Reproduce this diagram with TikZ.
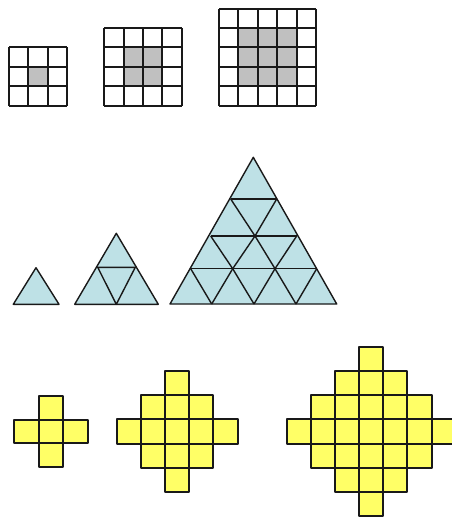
\documentclass[tikz,border=0pt]{standalone}
\definecolor{gridgray}{RGB}{192,192,192}
\definecolor{triblue}{RGB}{190,225,230}
\definecolor{crossyellow}{RGB}{255,255,102}
\begin{document}
\begin{tikzpicture}[x=1pt,y=-1pt,line join=round]
\tikzset{
  cellline/.style={line width=1.7pt,draw=black!90},
  tri/.style={line width=1.4pt,draw=black!90,fill=triblue},
  triline/.style={line width=1.4pt,draw=black!90},
  ycell/.style={fill=crossyellow},
  yline/.style={cellline}
}
\useasboundingbox (0,0) rectangle (452,517);
% square grids
\foreach \n/\L in {3/9,4/104.3,5/219}{
  \pgfmathtruncatemacro\T{round(105.5-\n*19.4)}
  \pgfmathtruncatemacro\R{round(\L+\n*19.4)}
  \pgfmathtruncatemacro\Lr{round(\L)}
  \pgfmathtruncatemacro\ga{round(\L+19.4)}
  \pgfmathtruncatemacro\gb{round(\L+(\n-1)*19.4)}
  \pgfmathtruncatemacro\gc{round(105.5-(\n-1)*19.4)}
  \pgfmathtruncatemacro\gd{round(105.5-19.4)}
  \fill[gridgray] (\ga,\gc) rectangle (\gb,\gd);
  \foreach \i in {0,...,\n}{
    \pgfmathtruncatemacro\xx{round(\L+\i*19.4)}
    \pgfmathtruncatemacro\yy{round(105.5-\i*19.4)}
    \draw[cellline] (\xx,\T) -- (\xx,106);
    \draw[cellline] (\Lr,\yy) -- (\R,\yy);
  }
}
% triangles
\filldraw[tri] (13.3,304.3) -- (36,267.7) -- (59,304.3) -- cycle;
\filldraw[tri] (74.7,304.3) -- (116.3,233.3) -- (158.3,304.3) -- cycle;
\draw[triline] (97.7,267.3) -- (135.3,267.3) -- (116.3,304.3) -- cycle;
\filldraw[tri] (170,304) -- (253.3,157.3) -- (336.7,304) -- cycle;
\draw[triline] (230.7,199) -- (276.7,199);
\draw[triline] (210.7,236) -- (296.7,236);
\draw[triline] (190.7,268.7) -- (316.7,268.7);
\draw[triline] (230.7,199) -- (255,236) -- (275,268.7) -- (296,304);
\draw[triline] (210.7,236) -- (232.7,268.7) -- (254,304);
\draw[triline] (190.7,268.7) -- (211.7,304);
\draw[triline] (276.7,199) -- (255,236) -- (232.7,268.7) -- (211.7,304);
\draw[triline] (296.7,236) -- (275,268.7) -- (254,304);
\draw[triline] (316.7,268.7) -- (296,304);
% crosses: fills first, then borders
\foreach \sty in {ycell,yline}{
\foreach \cx/\r/\w/\h in {50.8/1/24.5/23.9,177.2/2/24.2/24.1,371.2/3/24.15/24.1}{
  \foreach \i in {-\r,...,\r}{
    \foreach \j in {-\r,...,\r}{
      \pgfmathtruncatemacro\d{abs(\i)+abs(\j)}
      \ifnum\d>\r\relax\else
        \pgfmathtruncatemacro\xa{round(\cx+(\i-0.5)*\w)}
        \pgfmathtruncatemacro\xb{round(\cx+(\i+0.5)*\w)}
        \pgfmathtruncatemacro\ya{round(431.5+(\j-0.5)*\h)}
        \pgfmathtruncatemacro\yb{round(431.5+(\j+0.5)*\h)}
        \path[\sty] (\xa,\ya) rectangle (\xb,\yb);
      \fi
    }
  }
}}
\end{tikzpicture}
\end{document}
